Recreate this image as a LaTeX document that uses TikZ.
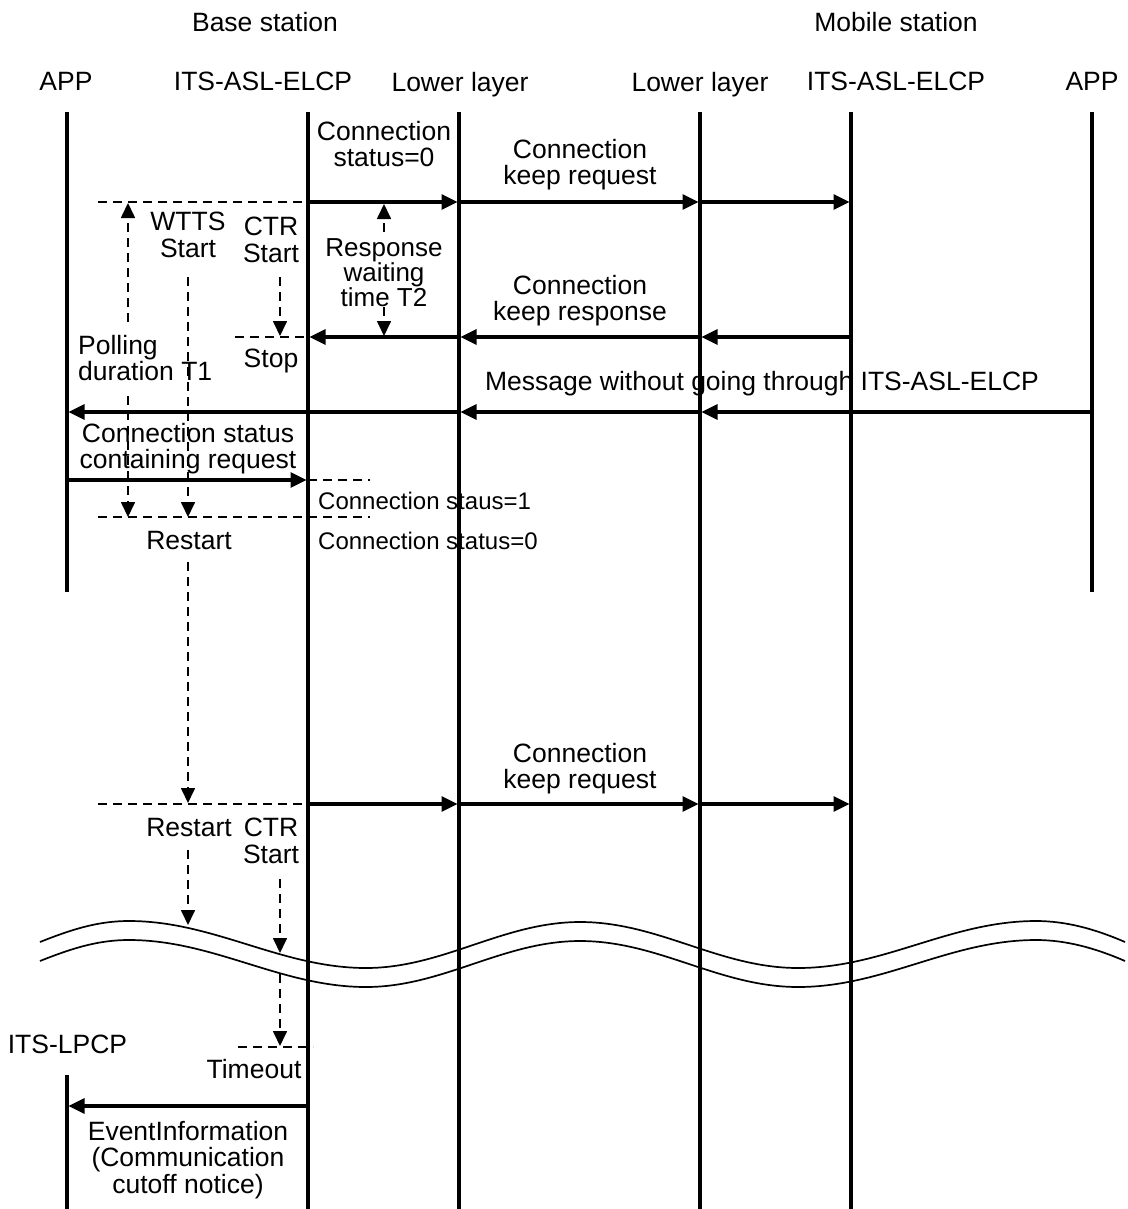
\documentclass[tikz,border=0pt]{standalone}
\usepackage{fontspec}
\setmainfont{Liberation Sans}
\usetikzlibrary{arrows.meta}
\begin{document}
\begin{tikzpicture}[x=1pt,y=-1pt,
  lifeline/.style={line width=4pt},
  msg/.style={line width=3.2pt,-{Triangle[length=16pt,width=15pt]},shorten >=1.5pt},
  guide/.style={line width=1.6pt,dash pattern=on 9pt off 6pt},
  timer/.style={line width=1.7pt,dash pattern=on 9pt off 6pt,-{Triangle[length=15pt,width=14pt]}},
  wave/.style={line width=1.7pt},
  lbl/.style={inner sep=0pt,align=center,anchor=north,font=\fontsize{26.5}{26.5}\selectfont},
  lblleft/.style={inner sep=0pt,align=left,anchor=north west,font=\fontsize{26.5}{26.5}\selectfont},
  small/.style={inner sep=0pt,align=left,anchor=north west,font=\fontsize{24}{24}\selectfont},
]
\useasboundingbox (0,0) rectangle (1127,1209);

% lifeline x positions
\coordinate (a1) at (67,0);
\coordinate (e1) at (308,0);
\coordinate (l1) at (459,0);
\coordinate (l2) at (700,0);
\coordinate (e2) at (851,0);
\coordinate (a2) at (1092,0);

% headers
\node[lbl] (bs) at (265,12) {Base station};
\node[lbl] (ms) at (896,12) {Mobile station};
\node[lbl] (h1) at (66,72) {APP};
\node[lbl] (h2) at (263,72) {ITS-ASL-ELCP};
\node[lbl] (h3) at (460,72) {Lower layer};
\node[lbl] (h4) at (700,72) {Lower layer};
\node[lbl] (h5) at (896,72) {ITS-ASL-ELCP};
\node[lbl] (h6) at (1092,72) {APP};

% lifelines
\draw[lifeline] (a1 |- 0,112) -- (a1 |- 0,592);
\draw[lifeline] (e1 |- 0,112) -- (e1 |- 0,1209);
\draw[lifeline] (l1 |- 0,112) -- (l1 |- 0,1209);
\draw[lifeline] (l2 |- 0,112) -- (l2 |- 0,1209);
\draw[lifeline] (e2 |- 0,112) -- (e2 |- 0,1209);
\draw[lifeline] (a2 |- 0,112) -- (a2 |- 0,592);
\node[lbl] (lpcp) at (67.5,1035) {ITS-LPCP};
\draw[lifeline] (a1 |- 0,1075) -- (a1 |- 0,1209);

% connection keep request 1
\node[lbl] (cs0) at (384,121) {Connection\\status=0};
\node[lbl] (ckr1) at (580,139) {Connection\\keep request};
\draw[msg] (e1 |- 0,202) -- (l1 |- 0,202);
\draw[msg] (l1 |- 0,202) -- (l2 |- 0,202);
\draw[msg] (l2 |- 0,202) -- (e2 |- 0,202);
\draw[guide] (98,202) -- (e1 |- 0,202);

% timers
\node[lbl] (wtts) at (188,212) {WTTS\\Start};
\node[lbl] (ctr1) at (271,217) {CTR\\Start};
\node[lblleft] (poll) at (78,335) {Polling\\duration T1};
\draw[timer] (128,322) -- (128,203);
\draw[timer] (128,396) -- (128,517);
\draw[timer] (188,277) -- (188,517);
\draw[timer] (280,277) -- (280,336);
\draw[guide] (235,337) -- (e1 |- 0,337);
\node[lbl] (stop) at (271,349) {Stop};

\node[lbl,font=\fontsize{26}{24}\selectfont] (t2) at (384,238) {Response\\waiting\\time T2};
\draw[timer] (384,232) -- (384,204);
\draw[timer] (384,307) -- (384,336);

% connection keep response
\node[lbl] (ckresp) at (580,275) {Connection\\keep response};
\draw[msg] (e2 |- 0,337) -- (l2 |- 0,337);
\draw[msg] (l2 |- 0,337) -- (l1 |- 0,337);
\draw[msg] (l1 |- 0,337) -- (e1 |- 0,337);

% message without ITS-ASL-ELCP
\node[lbl] (mw) at (762,371) {Message without going through ITS-ASL-ELCP};
\draw[msg] (a2 |- 0,412) -- (l2 |- 0,412);
\draw[msg] (l2 |- 0,412) -- (l1 |- 0,412);
\draw[msg] (l1 |- 0,412) -- (a1 |- 0,412);

% connection status containing request
\node[lbl] (cscr) at (188,423) {Connection status\\containing request};
\draw[msg] (a1 |- 0,480) -- (e1 |- 0,480);
\draw[guide] (e1 |- 0,480) -- (370,480);
\draw[guide] (98,517) -- (370,517);
\node[small] (cs1) at (318,492) {Connection staus=1};
\node[small] (cs0b) at (318,532) {Connection status=0};
\node[lbl] (rs1) at (189,531) {Restart};
\draw[timer] (188,562) -- (188,803);

% connection keep request 2
\node[lbl] (ckr2) at (580,743) {Connection\\keep request};
\draw[guide] (98,804) -- (e1 |- 0,804);
\draw[msg] (e1 |- 0,804) -- (l1 |- 0,804);
\draw[msg] (l1 |- 0,804) -- (l2 |- 0,804);
\draw[msg] (l2 |- 0,804) -- (e2 |- 0,804);
\node[lbl] (rs2) at (189,818) {Restart};
\node[lbl] (ctr2) at (271,818) {CTR\\Start};
\draw[timer] (188,850) -- (188,925);
\draw[timer] (280,879) -- (280,953);

% wave break
\draw[wave] (40,942) .. controls (75,928) and (100,921) .. (129,921)
  .. controls (214,921) and (281,968) .. (366,968)
  .. controls (443,968) and (503,922) .. (580,922)
  .. controls (659,922) and (719,968) .. (798,968)
  .. controls (884,968) and (950,921) .. (1036,921)
  .. controls (1066,921) and (1095,929) .. (1125,942);
\begin{scope}[shift={(0,19)}]
\draw[wave] (40,942) .. controls (75,928) and (100,921) .. (129,921)
  .. controls (214,921) and (281,968) .. (366,968)
  .. controls (443,968) and (503,922) .. (580,922)
  .. controls (659,922) and (719,968) .. (798,968)
  .. controls (884,968) and (950,921) .. (1036,921)
  .. controls (1066,921) and (1095,929) .. (1125,942);
\end{scope}

% timeout
\draw[timer] (280,974) -- (280,1046);
\draw[guide] (238,1047) -- (313,1047);
\node[lbl] (to) at (254,1059) {Timeout};
\draw[msg] (e1 |- 0,1106) -- (a1 |- 0,1106);
\node[lbl] (ev) at (188,1121) {EventInformation\\(Communication\\cutoff notice)};
\end{tikzpicture}
\end{document}
